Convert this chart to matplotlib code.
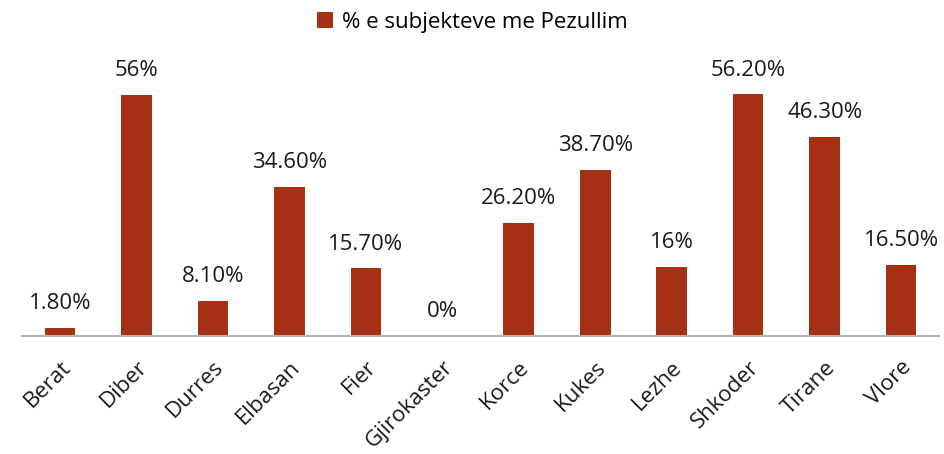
import matplotlib.pyplot as plt

districts = ["Berat", "Diber", "Durres", "Elbasan", "Fier", "Gjirokaster",
             "Korce", "Kukes", "Lezhe", "Shkoder", "Tirane", "Vlore"]
pct = [1.8, 56.0, 8.1, 34.6, 15.7, 0.0, 26.2, 38.7, 16.0, 56.2, 46.3, 16.5]
pct_labels = ["1.80%", "56%", "8.10%", "34.60%", "15.70%", "0%",
              "26.20%", "38.70%", "16%", "56.20%", "46.30%", "16.50%"]

plt.rcParams['font.family'] = ['Open Sans', 'DejaVu Sans']

fig = plt.figure(figsize=(9.45, 4.54), dpi=100)
ax = fig.add_axes([0.023, 0.26, 0.971, 0.568])

x = range(len(districts))
bars = ax.bar(x, pct, width=0.4, color="#A63014", label="% e subjekteve me Pezullim")

for b, lab in zip(bars, pct_labels):
    ax.annotate(lab, (b.get_x() + b.get_width() / 2, b.get_height()),
                xytext=(0, 10), textcoords="offset points",
                ha="center", va="bottom", fontsize=16, color="#1a1a1a")

ax.set_xlim(-0.5, len(districts) - 0.5)
ax.set_ylim(0, 60)
ax.set_yticks([])
ax.set_xticks(list(x))
ax.set_xticklabels(districts, rotation=45, ha="right", rotation_mode="anchor",
                   fontsize=16, color="#1a1a1a")
ax.tick_params(axis="x", length=0, pad=15)
for s in ["top", "right", "left"]:
    ax.spines[s].set_visible(False)
ax.spines["bottom"].set_color("#b3b3b3")
ax.spines["bottom"].set_linewidth(1.5)

fig.legend(loc="upper center", bbox_to_anchor=(0.5, 1.018), frameon=False,
           fontsize=16, handlelength=0.7, handleheight=0.7, handletextpad=0.4)

fig.savefig("out.png", dpi=100)
